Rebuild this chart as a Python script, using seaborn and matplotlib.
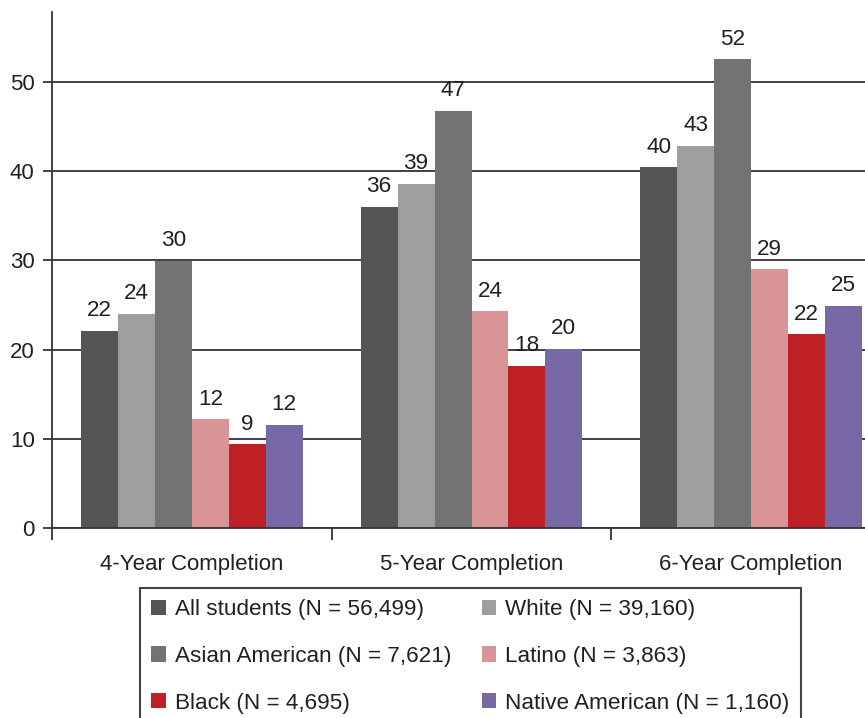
import pandas as pd
import matplotlib
matplotlib.use('Agg')
import matplotlib.pyplot as plt
import seaborn as sns
from matplotlib.patches import Patch

sns.set_style('white')
plt.rcParams['font.family'] = ['Liberation Sans', 'DejaVu Sans']

# data (percent completing)
groups = ['4-Year Completion', '5-Year Completion', '6-Year Completion']
series = ['All students (N = 56,499)', 'White (N = 39,160)', 'Asian American (N = 7,621)',
          'Latino (N = 3,863)', 'Black (N = 4,695)', 'Native American (N = 1,160)']
all_students = [22.1, 36.0, 40.4]
white = [24.0, 38.6, 42.8]
asian_american = [29.9, 46.7, 52.5]
latino = [12.2, 24.3, 29.0]
black = [9.4, 18.2, 21.7]
native_american = [11.6, 20.1, 24.9]
colors = ['#555555', '#9e9e9e', '#737373', '#d99595', '#be2026', '#7768a6']

values = [all_students, white, asian_american, latino, black, native_american]
rows = []
for name, vals in zip(series, values):
    for g, v in zip(groups, vals):
        rows.append({'group': g, 'series': name, 'value': v})
df = pd.DataFrame(rows)
palette = dict(zip(series, colors))

text_color = '#231f20'
line_color = '#333333'

fig = plt.figure(figsize=(8.65, 7.18), dpi=100)
ax = fig.add_axes([52 / 865, 189.7 / 718, 839 / 865, 516.3 / 718])

sns.barplot(data=df, x='group', y='value', hue='series', order=groups, hue_order=series,
            palette=palette, width=0.793, saturation=1, errorbar=None, ax=ax, legend=False,
            linewidth=0)

for cont in ax.containers:
    ax.bar_label(cont, fmt='%.0f', padding=7, fontsize=16.2, color=text_color)

ax.set_ylim(0, 57.8)
ax.set_xlim(-0.5, 2.5)
ax.set_yticks([0, 10, 20, 30, 40, 50])
ax.set_axisbelow(True)
ax.yaxis.grid(True, color=line_color, linewidth=1.3)
ax.xaxis.grid(False)

# group separators as major ticks, names on minor ticks
ax.set_xticks([-0.5, 0.5, 1.5, 2.5])
ax.set_xticklabels([])
ax.set_xticks([0, 1, 2], minor=True)
ax.set_xticklabels(groups, minor=True)
ax.tick_params(axis='x', which='major', direction='out', length=8.5, width=1.3, color=line_color, bottom=True)
ax.tick_params(axis='x', which='minor', length=0, pad=18.5, labelsize=16, labelcolor=text_color)
ax.tick_params(axis='y', direction='out', length=6.5, width=1.3, color=line_color, left=True,
               pad=6, labelsize=16, labelcolor=text_color)
ax.set_xlabel('')
ax.set_ylabel('')

for side in ['top', 'right']:
    ax.spines[side].set_visible(False)
for side in ['left', 'bottom']:
    ax.spines[side].set_color(line_color)
    ax.spines[side].set_linewidth(1.3)

# legend filled row by row like the original
handles = [Patch(facecolor=palette[s], edgecolor='none') for s in series]
order = [0, 2, 4, 1, 3, 5]
leg = fig.legend([handles[i] for i in order], [series[i] for i in order], ncol=2,
                 loc='upper left', bbox_to_anchor=(140 / 865, 1 - 588 / 718),
                 frameon=True, fancybox=False, framealpha=1, edgecolor='#444444',
                 fontsize=16.2, handlelength=0.65, handleheight=0.65, handletextpad=0.4,
                 columnspacing=1.35, labelspacing=1.14, borderpad=0.5, borderaxespad=0)
leg.get_frame().set_linewidth(1.5)
for t in leg.get_texts():
    t.set_color(text_color)

plt.savefig('out.png', dpi=100)
plt.close()
